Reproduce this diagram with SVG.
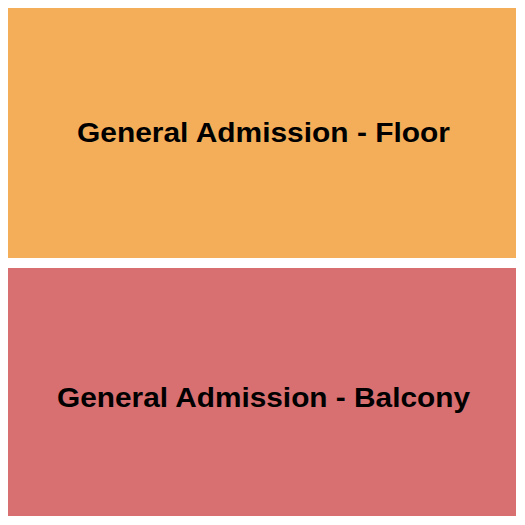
<svg xmlns="http://www.w3.org/2000/svg" width="525" height="525" viewBox="0 0 525 525">
<style>
.lbl{font-family:"Liberation Sans",Arial,sans-serif;font-weight:bold;font-size:27.5px;fill:#000}
</style>
<rect width="525" height="525" fill="#fff"/>
<g id="floor">
<rect x="8" y="8" width="508" height="250" fill="#F4AE59"/>
<text class="lbl" x="77" y="142" textLength="373" lengthAdjust="spacingAndGlyphs">General Admission - Floor</text>
</g>
<g id="balcony">
<rect x="8" y="268" width="508" height="248" fill="#D86F71"/>
<text class="lbl" x="57" y="407" textLength="413" lengthAdjust="spacingAndGlyphs">General Admission - Balcony</text>
</g>
<g id="connectors"/>
</svg>
